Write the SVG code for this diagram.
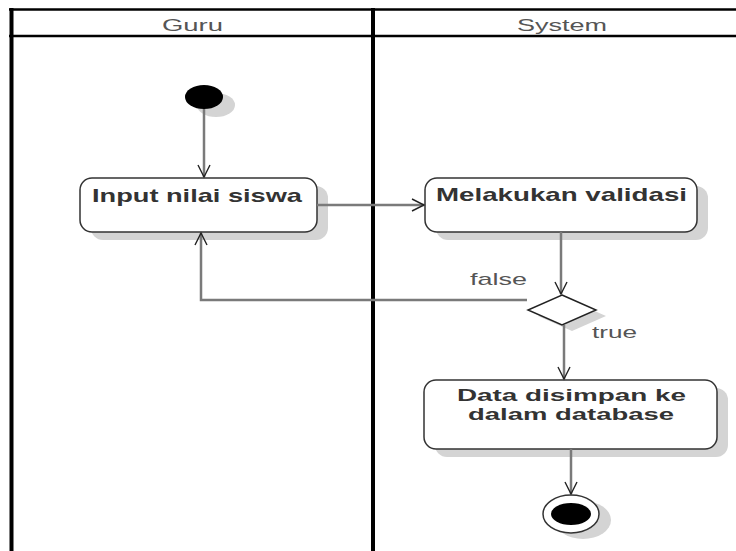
<svg xmlns="http://www.w3.org/2000/svg" width="736" height="551" viewBox="0 0 736 551">
<defs>
<marker id="arr" markerUnits="userSpaceOnUse" markerWidth="16" markerHeight="16" viewBox="0 0 16 16" refX="14" refY="8" orient="auto">
<path d="M2,2 L14,8 L2,14" fill="none" stroke="#222" stroke-width="1.4"/>
</marker>
</defs>
<style>
.lane{stroke:#000;fill:none}
.hdr{font-family:"Liberation Sans",Arial,sans-serif;font-size:17px;fill:#555}
.lbl{font-family:"Liberation Sans",Arial,sans-serif;font-size:17px;fill:#555}
.act{font-family:"Liberation Sans",Arial,sans-serif;font-size:18.5px;font-weight:bold;fill:#333}
.act2{font-family:"Liberation Sans",Arial,sans-serif;font-size:16.5px;font-weight:bold;fill:#333}
.box{fill:#fff;stroke:#333;stroke-width:1.5}
.shadow{fill:#d4d4d4}
.edge{fill:none;stroke:#7a7a7a;stroke-width:2.5}
</style>
<rect x="0" y="0" width="736" height="551" fill="#fff"/>
<g id="swimlanes">
<line class="lane" x1="9" y1="9.5" x2="736" y2="9.5" stroke-width="2.5"/>
<line class="lane" x1="9" y1="36" x2="736" y2="36" stroke-width="2.5"/>
<line class="lane" x1="11.5" y1="8" x2="11.5" y2="551" stroke-width="4"/>
<line class="lane" x1="373" y1="8" x2="373" y2="551" stroke-width="4"/>
<text class="hdr" x="162" y="31" textLength="61" lengthAdjust="spacingAndGlyphs">Guru</text>
<text class="hdr" x="517" y="31" textLength="90" lengthAdjust="spacingAndGlyphs">System</text>
</g>
<g id="start">
<ellipse class="shadow" cx="216" cy="105" rx="19" ry="12"/>
<ellipse cx="204" cy="97" rx="19" ry="12" fill="#000"/>
</g>
<g id="input">
<rect class="shadow" x="91" y="186" width="237" height="54" rx="12"/>
<rect class="box" x="80" y="178" width="237" height="54" rx="12"/>
<text class="act" x="92" y="202" textLength="210" lengthAdjust="spacingAndGlyphs">Input nilai siswa</text>
</g>
<g id="validasi">
<rect class="shadow" x="436" y="186" width="272" height="54" rx="12"/>
<rect class="box" x="425" y="178" width="272" height="54" rx="12"/>
<text class="act" x="436" y="201" textLength="251" lengthAdjust="spacingAndGlyphs">Melakukan validasi</text>
</g>
<g id="decision">
<polygon class="shadow" points="572,301 606,316 572,331 538,316"/>
<polygon points="562,295 596,310 562,325 528,310" fill="#fff" stroke="#222" stroke-width="1.5"/>
</g>
<g id="simpan">
<rect class="shadow" x="435" y="388" width="293" height="69" rx="12"/>
<rect class="box" x="424" y="380" width="293" height="69" rx="12"/>
<text class="act2" x="457" y="401" textLength="229" lengthAdjust="spacingAndGlyphs">Data disimpan ke</text>
<text class="act2" x="468" y="420" textLength="206" lengthAdjust="spacingAndGlyphs">dalam database</text>
</g>
<g id="end">
<ellipse class="shadow" cx="583" cy="520" rx="28" ry="19"/>
<ellipse cx="571" cy="514" rx="28" ry="19" fill="#fff" stroke="#333" stroke-width="1.5"/>
<ellipse cx="571" cy="514" rx="20" ry="11" fill="#000"/>
</g>
<g id="connectors">
<line class="edge" x1="204" y1="109" x2="204" y2="177" marker-end="url(#arr)"/>
<line class="edge" x1="317" y1="205" x2="424" y2="205" marker-end="url(#arr)"/>
<line class="edge" x1="561" y1="232" x2="561" y2="294" marker-end="url(#arr)"/>
<polyline class="edge" points="527,300 201,300 201,233" marker-end="url(#arr)"/>
<line class="edge" x1="564" y1="325" x2="564" y2="379" marker-end="url(#arr)"/>
<line class="edge" x1="571" y1="449" x2="571" y2="494" marker-end="url(#arr)"/>
<text class="lbl" x="470" y="285" textLength="57" lengthAdjust="spacingAndGlyphs">false</text>
<text class="lbl" x="592" y="338" textLength="45" lengthAdjust="spacingAndGlyphs">true</text>
</g>
</svg>
